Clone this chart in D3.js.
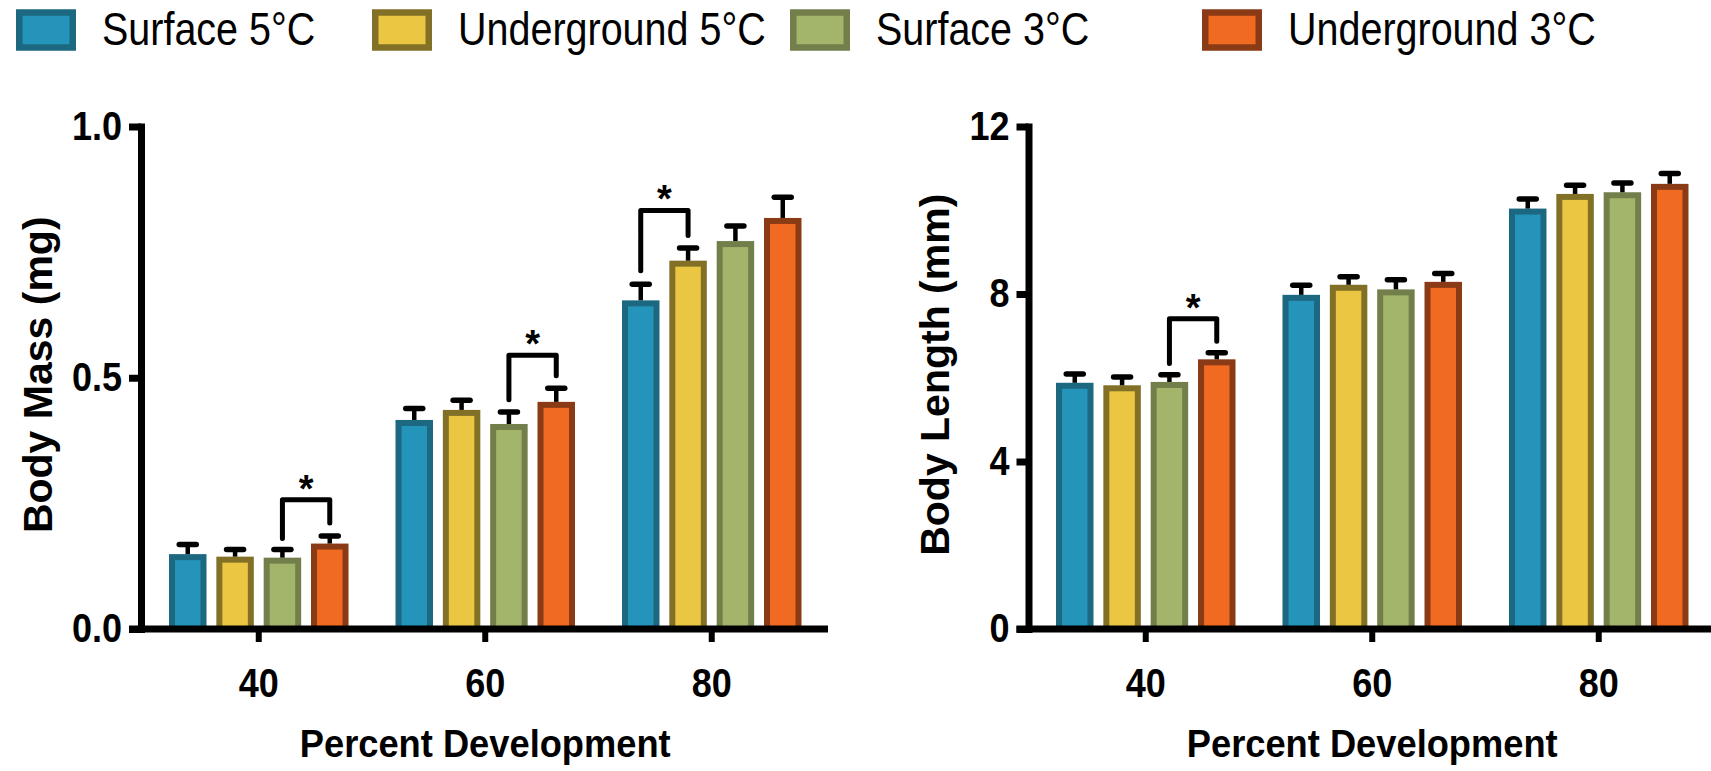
<!DOCTYPE html>
<html>
<head>
<meta charset="utf-8">
<script src="https://cdn.jsdelivr.net/npm/d3@7/dist/d3.min.js"></script>
<style>
body { margin: 0; background: #fff; }
svg text { font-family: "Liberation Sans", Arial, Helvetica, sans-serif; fill: #000; }
.legendText { font-size: 47px; }
.tickText { font-weight: bold; font-size: 40px; }
.axisTitle { font-weight: bold; font-size: 41px; }
.xTitle { font-weight: bold; font-size: 39px; }
.star { font-weight: bold; font-size: 38px; }
</style>
</head>
<body>
<div id="graphdiv"></div>
<script>
document.addEventListener("DOMContentLoaded", init);

// categories and series
var categories = ["40", "60", "80"];
var seriesNames = ["Surface 5°C", "Underground 5°C", "Surface 3°C", "Underground 3°C"];
var fills = ["#2594ba", "#ebc643", "#a3b56a", "#f06a21"];
var strokes = ["#1c6880", "#837027", "#737f4b", "#8a3b16"];

// body mass (mg), one array per series, one value per category
var massSurface5 = [0.149, 0.416, 0.654];
var massUnder5 = [0.144, 0.436, 0.733];
var massSurface3 = [0.142, 0.408, 0.772];
var massUnder3 = [0.170, 0.452, 0.818];
// SEM
var massErrSurface5 = [0.019, 0.023, 0.032];
var massErrUnder5 = [0.014, 0.019, 0.025];
var massErrSurface3 = [0.016, 0.024, 0.030];
var massErrUnder3 = [0.015, 0.027, 0.041];

// body length (mm)
var lenSurface5 = [5.88, 7.98, 10.04];
var lenUnder5 = [5.82, 8.22, 10.39];
var lenSurface3 = [5.90, 8.11, 10.43];
var lenUnder3 = [6.44, 8.29, 10.63];
var lenErrSurface5 = [0.21, 0.23, 0.23];
var lenErrUnder5 = [0.20, 0.19, 0.21];
var lenErrSurface3 = [0.17, 0.23, 0.22];
var lenErrUnder3 = [0.16, 0.20, 0.25];

// significance brackets: category, left series, right series, top, left leg end, right leg end
var massBrackets = [
    ["40", 2, 3, 0.257, 0.180, 0.211],
    ["60", 2, 3, 0.545, 0.456, 0.504],
    ["80", 0, 1, 0.833, 0.713, 0.783]
];
var lenBrackets = [
    ["40", 2, 3, 7.41, 6.34, 6.87]
];

var massTicks = [0, 0.5, 1.0];
var lenTicks = [0, 4, 8, 12];

var yBottom = 629, yTopPx = 126.5;

// squeeze text horizontally, the original uses a condensed face
function condense(sel, k) {
    sel.each(function() {
        var len = this.getComputedTextLength();
        d3.select(this).attr("textLength", len * k).attr("lengthAdjust", "spacingAndGlyphs");
    });
}

function drawPanel(svg, p) {
    var g = svg.append("g");
    var x0 = d3.scaleBand().domain(categories).range(p.xRange).paddingInner(0.2075).paddingOuter(0.106);
    var x1 = d3.scaleBand().domain(d3.range(seriesNames.length)).range([0, x0.bandwidth()]).paddingInner(0.208);
    var y = d3.scaleLinear().domain([0, p.yMax]).range([yBottom, yTopPx]);
    var sw = 6;

    // bars
    var rows = [];
    categories.forEach(function(c, ci) {
        p.means.forEach(function(arr, si) {
            rows.push({cat: c, s: si, v: arr[ci], e: p.errs[si][ci]});
        });
    });
    g.selectAll("rect.bar").data(rows).enter().append("rect").attr("class", "bar")
        .attr("x", function(d){ return x0(d.cat) + x1(d.s) + sw/2; })
        .attr("y", function(d){ return y(d.v) + sw/2; })
        .attr("width", x1.bandwidth() - sw)
        .attr("height", function(d){ return yBottom - y(d.v) - sw/2; })
        .attr("fill", function(d){ return fills[d.s]; })
        .attr("stroke", function(d){ return strokes[d.s]; })
        .attr("stroke-width", sw);

    // error bars (upper only)
    var cx = function(d){ return x0(d.cat) + x1(d.s) + x1.bandwidth()/2; };
    g.selectAll("line.stem").data(rows).enter().append("line")
        .attr("x1", cx).attr("x2", cx)
        .attr("y1", function(d){ return y(d.v); })
        .attr("y2", function(d){ return y(d.v + d.e); })
        .attr("stroke", "#000").attr("stroke-width", 4.5);
    g.selectAll("line.cap").data(rows).enter().append("line")
        .attr("x1", function(d){ return cx(d) - 8.5; }).attr("x2", function(d){ return cx(d) + 8.5; })
        .attr("y1", function(d){ return y(d.v + d.e); })
        .attr("y2", function(d){ return y(d.v + d.e); })
        .attr("stroke", "#000").attr("stroke-width", 5.5).attr("stroke-linecap", "round");

    // brackets
    p.brackets.forEach(function(b) {
        var xa = x0(b[0]) + x1(b[1]) + x1.bandwidth()/2;
        var xb = x0(b[0]) + x1(b[2]) + x1.bandwidth()/2;
        g.append("path")
            .attr("d", "M" + xa + "," + y(b[4]) + " L" + xa + "," + y(b[3]) + " L" + xb + "," + y(b[3]) + " L" + xb + "," + y(b[5]))
            .attr("fill", "none").attr("stroke", "#000").attr("stroke-width", 5)
            .attr("stroke-linejoin", "round").attr("stroke-linecap", "round");
        g.append("text").attr("class", "star")
            .attr("x", (xa + xb)/2).attr("y", y(b[3]) + 2)
            .attr("text-anchor", "middle").text("*");
    });

    // x axis line and ticks
    g.append("line")
        .attr("x1", p.axisX - 12).attr("x2", p.xEnd)
        .attr("y1", yBottom).attr("y2", yBottom)
        .attr("stroke", "#000").attr("stroke-width", 7);
    var xAxis = g.append("g").attr("transform", "translate(0," + yBottom + ")")
        .call(d3.axisBottom(x0).tickSize(13).tickPadding(27));
    xAxis.select(".domain").remove();
    xAxis.selectAll(".tick line").attr("stroke", "#000").attr("stroke-width", 6);
    xAxis.selectAll(".tick text").attr("class", "tickText").attr("font-size", null).attr("font-family", null)
        .call(condense, 0.9);

    // y axis
    var yAxis = g.append("g").attr("transform", "translate(" + p.axisX + ",0)")
        .call(d3.axisLeft(y).tickValues(p.ticks).tickFormat(d3.format(p.fmt)).tickSize(12).tickSizeOuter(0).tickPadding(7));
    yAxis.select(".domain").attr("stroke", "#000").attr("stroke-width", 7).attr("stroke-linecap", "square");
    yAxis.selectAll(".tick line").attr("stroke", "#000").attr("stroke-width", 7);
    yAxis.selectAll(".tick text").attr("class", "tickText").attr("font-size", null).attr("font-family", null)
        .call(condense, 0.9);

    // titles
    g.append("text").attr("class", "axisTitle")
        .attr("transform", "translate(" + p.titleX + "," + ((yBottom + yTopPx)/2 - 3) + ") rotate(-90)")
        .attr("text-anchor", "middle").text(p.title);
    g.append("text").attr("class", "xTitle")
        .attr("x", x0(categories[1]) + x0.bandwidth()/2).attr("y", 757)
        .attr("text-anchor", "middle").text("Percent Development")
        .call(condense, 0.93);
}

function init() {
    var svg = d3.select("#graphdiv").append("svg").attr("width", 1711).attr("height", 771);

    // legend
    var legendX = [16, 372, 790, 1202];
    var lg = svg.selectAll("g.legend").data(seriesNames).enter().append("g").attr("class", "legend")
        .attr("transform", function(d, i){ return "translate(" + legendX[i] + ",0)"; });
    lg.append("rect").attr("x", 3.25).attr("y", 12.5).attr("width", 53.5).attr("height", 35)
        .attr("fill", function(d, i){ return fills[i]; })
        .attr("stroke", function(d, i){ return strokes[i]; })
        .attr("stroke-width", 6.5);
    lg.append("text").attr("class", "legendText").attr("x", 86).attr("y", 45)
        .text(function(d){ return d; })
        .call(condense, 0.84);

    drawPanel(svg, {
        xRange: [145, 825.5], axisX: 141, xEnd: 828, yMax: 1.0, ticks: massTicks, fmt: ".1f",
        title: "Body Mass (mg)", titleX: 52,
        means: [massSurface5, massUnder5, massSurface3, massUnder3],
        errs: [massErrSurface5, massErrUnder5, massErrSurface3, massErrUnder3],
        brackets: massBrackets
    });
    drawPanel(svg, {
        xRange: [1032, 1712.5], axisX: 1028.5, xEnd: 1715, yMax: 12, ticks: lenTicks, fmt: "d",
        title: "Body Length (mm)", titleX: 949,
        means: [lenSurface5, lenUnder5, lenSurface3, lenUnder3],
        errs: [lenErrSurface5, lenErrUnder5, lenErrSurface3, lenErrUnder3],
        brackets: lenBrackets
    });
}
</script>
</body>
</html>
